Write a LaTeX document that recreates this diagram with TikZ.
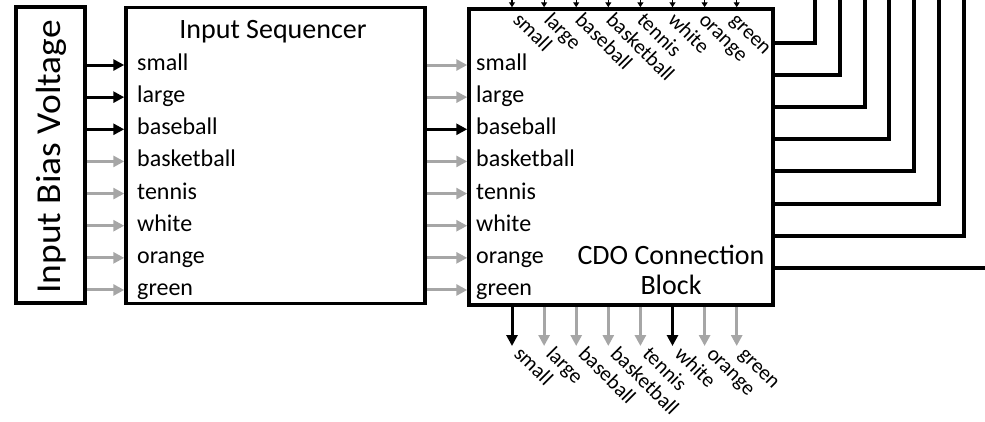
\documentclass[tikz,border=0pt]{standalone}
\usepackage{fontspec}
\setmainfont{Carlito}
\usetikzlibrary{arrows.meta}
\definecolor{offgray}{RGB}{166,166,166}
\tikzset{
  box/.style={draw, line width=3.5pt, inner sep=0pt},
  lbl/.style={anchor=west, inner sep=0pt, text height=11pt, text depth=0pt,
    font=\fontsize{24}{28}\selectfont},
  diag/.style={anchor=base west, rotate=-45, inner sep=0pt,
    font=\fontsize{21}{24}\selectfont},
  title/.style={anchor=base, inner sep=0pt, font=\fontsize{28}{32}\selectfont},
  sig/.style={line width=3pt, -{Triangle[length=11pt,width=11pt]}},
  sigon/.style={sig, draw=black, fill=black},
  sigoff/.style={sig, draw=offgray, fill=offgray},
  tick/.style={line width=1.2pt, -{Triangle[length=5pt,width=6pt]}},
  wire/.style={line width=4pt},
}
\begin{document}
\begin{tikzpicture}[x=1pt,y=-1pt]
\useasboundingbox (0,0) rectangle (985,421);

% blocks
\node[box, minimum width=69pt, minimum height=296pt] (bias) at (50.5,155) {};
\node[box, minimum width=299pt, minimum height=296pt] (seq) at (275.5,155.5) {};
\node[box, minimum width=304pt, minimum height=296pt] (cdo) at (621,157) {};

\node[rotate=90, anchor=base, inner sep=0pt, font=\fontsize{35}{40}\selectfont]
  (biastxt) at (60,157) {\scalebox{1.07}[1]{Input Bias Voltage}};
\node[title] (seqtitle) at (273,38) {Input Sequencer};
\node[title] (cdotitle) at (671,264) {CDO Connection};
\node[title] (cdotitle2) at (671,294) {Block};

% row labels of both blocks
\foreach \w [count=\i] in {small,large,baseball,basketball,tennis,white,orange,green} {
  \node[lbl] (s\i) at (137, {65+32.14*(\i-1)}) {\w};
  \node[lbl] (c\i) at (476, {65+32.14*(\i-1)}) {\w};
}

% row signals: bias -> sequencer -> CDO block
\foreach \i/\a/\b in {1/sigon/sigoff, 2/sigon/sigoff, 3/sigon/sigon,
    4/sigoff/sigoff, 5/sigoff/sigoff, 6/sigoff/sigoff, 7/sigoff/sigoff,
    8/sigoff/sigoff} {
  \draw[\a] (bias.east |- s\i) -- (seq.west |- s\i);
  \draw[\b] (seq.east |- c\i) -- (cdo.west |- c\i);
}

% column labels and ticks along the top and bottom of the CDO block
\foreach \w [count=\i] in {small,large,baseball,basketball,tennis,white,orange,green} {
  \coordinate (k\i) at ({512+32.1*(\i-1)}, 0);
  \coordinate (q\i) at ({512+32.1*(\i-1)}, 346);
  \node[diag] (t\i) at ({512+31*(\i-1)}, 21) {\w};
  \node[diag] (b\i) at ({513+32.1*(\i-1)}, 355) {\w};
  \draw[tick] (k\i) -- (k\i |- cdo.north);
}
\foreach \i/\c in {1/sigon, 2/sigoff, 3/sigoff, 4/sigoff, 5/sigoff, 6/sigon, 7/sigoff, 8/sigoff} {
  \draw[\c] (k\i |- cdo.south) -- (q\i);
}

% wires leaving the right side
\foreach \i in {1,...,7} {
  \coordinate (w\i) at ({815+24.8*(\i-1)}, {43+32.1*(\i-1)});
  \draw[wire] (cdo.east |- w\i) -- (w\i) -- (w\i |- k1);
}
\coordinate (w8) at (985,268);
\draw[wire] (cdo.east |- w8) -- (w8);
\end{tikzpicture}
\end{document}
